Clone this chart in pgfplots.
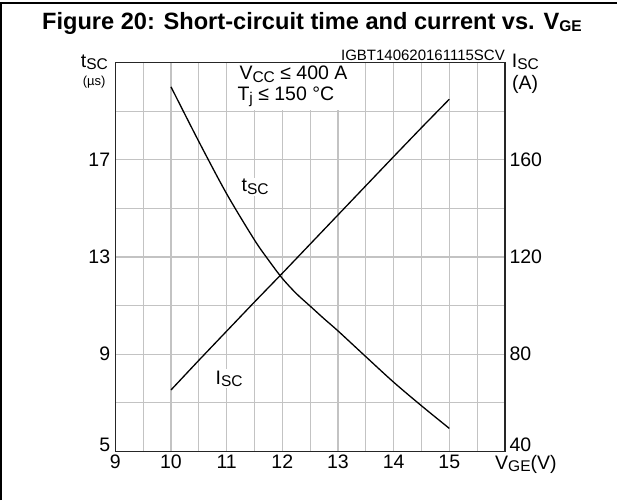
\documentclass[border=0pt]{standalone}
\usepackage{fontspec}
\setmainfont{Liberation Sans}
\usepackage{pgfplots}
\pgfplotsset{compat=1.18}
\definecolor{gridgray}{RGB}{195,195,195}
\newcommand{\fs}[1]{\fontsize{#1}{#1}\selectfont}
\newcommand{\sub}[1]{\raisebox{-2.5pt}{\fs{15.5}#1}}

\begin{document}
\begin{tikzpicture}[x=1pt,y=1pt]
\useasboundingbox (0,0) rectangle (617,500);
% outer frame (top and left)
\draw[line width=2pt] (0,497) -- (617,497);
\draw[line width=2pt] (1,0) -- (1,498);
\begin{axis}[
  at={(115.3pt,48.5pt)}, anchor=south west,
  scale only axis, width=389.7pt, height=389pt,
  xmin=9, xmax=16, ymin=5, ymax=21,
  xtick={9,10,11,12,13,14,15},
  minor xtick={9.5,10.5,11.5,12.5,13.5,14.5,15.5},
  ytick={9,13,17}, minor ytick={7,11,15,19},
  extra y ticks={5},
  extra y tick style={grid=none, yticklabel style={yshift=7pt}},
  grid=both,
  major grid style={gridgray, line width=1.1pt},
  minor grid style={gridgray, line width=1.1pt},
  major tick length=0pt, minor tick length=0pt,
  axis line style={black!85, line width=1.2pt},
  /pgf/number format/assume math mode=true,
  ticklabel style={font=\fs{19.5}, inner sep=0pt},
  xticklabel style={yshift=-3pt},
  yticklabel style={xshift=-5pt},
  clip=false,
]
\addplot[black, line width=1.3pt, smooth] coordinates {
  (10,20.0) (10.5,17.75) (11,15.6) (11.5,13.7) (11.75,12.88) (12,12.12)
  (12.25,11.5) (12.5,10.98) (12.75,10.46) (13,9.96) (13.5,8.9)
  (14,7.85) (14.5,6.88) (15,5.95)
};
\end{axis}
\begin{axis}[
  at={(115.3pt,48.5pt)}, anchor=south west,
  scale only axis, width=389.7pt, height=389pt,
  xmin=9, xmax=16, ymin=40, ymax=200,
  axis y line*=right, axis x line=none,
  ytick={80,120,160},
  extra y ticks={40},
  extra y tick style={yticklabel style={yshift=7pt}},
  major tick length=0pt, minor tick length=0pt,
  axis line style={black!85, line width=1.2pt},
  /pgf/number format/assume math mode=true,
  ticklabel style={font=\fs{19.5}, inner sep=0pt},
  yticklabel style={xshift=4.3pt},
  clip=false,
]
\addplot[black, line width=1.3pt] coordinates {
  (10,65.3) (10.5,77.5) (11,89.5) (11.5,101.5) (12,113.3) (12.5,125.3)
  (13,137.3) (13.5,149.3) (14,161.3) (14.5,173.2) (15,184.9)
};
\end{axis}
% white box behind the conditions
\fill[white] (227.8,389.8) rectangle (364.8,436.6);
\node[anchor=base west, inner sep=0pt, font=\fs{19.5}] at (239.3,420) {V\sub{CC} ≤ 400 A};
\node[anchor=base west, inner sep=0pt, font=\fs{19.5}] at (237.3,399) {T\sub{j} ≤ 150 °C};
% title
\node[anchor=base, inner sep=0pt, font=\bfseries\fs{23.6}] at (311.9,470.7) {Figure 20: Short-circuit time and current vs. V\raisebox{-2pt}{\fs{15.5}GE}};
% code
\node[anchor=base east, inner sep=0pt, font=\fs{15}] at (505,439.5) {IGBT140620161115SCV};
% axis labels
\node[anchor=base west, inner sep=0pt, font=\fs{19.5}] at (80.7,432.5) {t\sub{SC}};
\node[anchor=base west, inner sep=0pt, font=\fs{13}] at (82.7,414) {(µs)};
\node[anchor=base west, inner sep=0pt, font=\fs{19.5}] at (511.7,432.5) {I\sub{SC}};
\node[anchor=base west, inner sep=0pt, font=\fs{19.5}] at (512,410) {(A)};
\node[anchor=base west, inner sep=0pt, font=\fs{19.5}] at (495,30.7) {V\sub{GE}(V)};
% curve labels
\node[anchor=base west, inner sep=1.5pt, fill=white, font=\fs{19.5}] at (240,308.3) {t\sub{SC}};
\node[anchor=base west, inner sep=1.5pt, fill=white, font=\fs{19.5}] at (214,115.7) {I\sub{SC}};
\end{tikzpicture}
\end{document}
